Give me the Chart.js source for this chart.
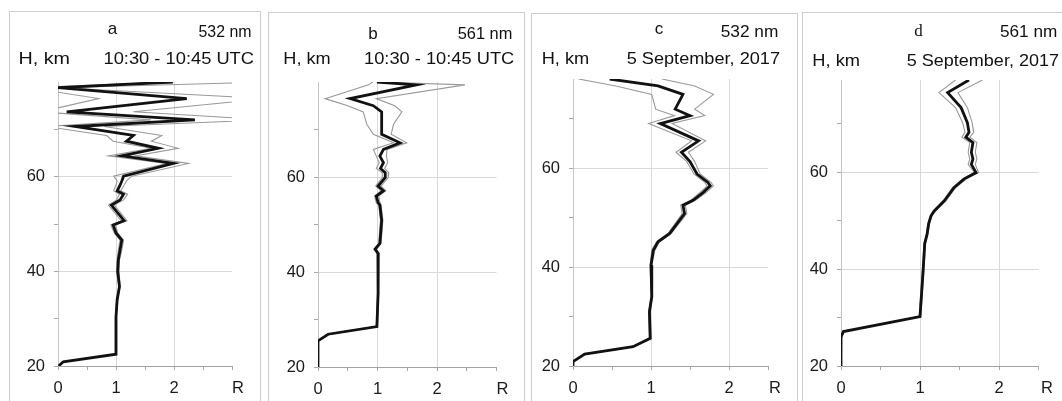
<!DOCTYPE html>
<html><head><meta charset="utf-8">
<script src="https://cdn.jsdelivr.net/npm/chart.js@4.4.1/dist/chart.umd.min.js"></script>
<style>
html,body{margin:0;padding:0;background:#fff;width:1062px;height:401px;overflow:hidden;position:relative;}
canvas{position:absolute;top:0;}
.box{position:absolute;border:1px solid #cdcdcd;box-sizing:border-box;height:430px;}
</style></head><body>
<div class="box" style="left:9px;top:11px;width:252px"></div>
<div class="box" style="left:268px;top:12px;width:257px"></div>
<div class="box" style="left:531px;top:13px;width:267px"></div>
<div class="box" style="left:802px;top:12px;width:280px"></div>
<canvas id="ca" width="265" height="401" style="left:0px;width:265px;height:401px"></canvas>
<canvas id="cb" width="265" height="401" style="left:265px;width:265px;height:401px"></canvas>
<canvas id="cc" width="267" height="401" style="left:530px;width:267px;height:401px"></canvas>
<canvas id="cd" width="265" height="401" style="left:797px;width:265px;height:401px"></canvas>
<script>
// ---------- DATA ----------
// Panel a: 532 nm, 10:30 - 10:45 UTC
const aH    = [80.0, 78.8, 76.5, 73.7, 72.0, 70.6, 68.7, 67.5, 66.0, 64.4, 62.8, 60.1, 59.1, 58.2, 57.0, 56.3, 55.1, 54.0, 50.7, 49.8, 48.1, 46.6, 44.5, 42.4, 40.0, 36.8, 34.0, 30.4, 22.5, 20.9, 20.0];
const aMean = [1.98, 0.00, 2.22, 0.15, 2.36, 0.29, 1.30, 1.18, 1.73, 1.10, 1.99, 1.13, 1.10, 1.07, 1.02, 1.13, 1.07, 0.92, 1.14, 0.95, 1.00, 1.10, 1.07, 1.04, 1.03, 1.06, 1.02, 1.00, 1.00, 0.09, 0.01];
const aLow  = [1.90, -0.50, 0.70, -0.30, 1.60, -0.20, 0.84, 0.95, 1.61, 0.87, 1.87, 0.96, 1.02, 1.00, 0.96, 1.06, 1.01, 0.87, 1.09, 0.91, 0.97, 1.07, 1.04, 1.02, 1.01, 1.05, 1.01, 0.99, 0.99, 0.08, 0.00];
const aHigh = [3.60, 0.05, 3.60, 1.30, 3.60, 0.80, 1.79, 1.61, 2.07, 1.33, 2.25, 1.27, 1.18, 1.14, 1.08, 1.20, 1.13, 0.97, 1.19, 0.99, 1.03, 1.13, 1.10, 1.06, 1.05, 1.07, 1.03, 1.01, 1.01, 0.10, 0.02];

// Panel b: 561 nm, 10:30 - 10:45 UTC
const bH    = [80.0, 79.4, 76.5, 75.0, 73.7, 71.1, 69.0, 67.2, 65.8, 64.4, 63.0, 61.8, 60.9, 59.9, 58.1, 57.1, 56.0, 54.6, 54.1, 50.9, 46.0, 44.8, 43.9, 35.5, 28.5, 26.9, 25.5, 20.0];
const bMean = [0.99, 1.65, 0.54, 0.93, 1.07, 1.07, 1.07, 1.38, 1.10, 1.04, 1.10, 1.05, 1.13, 1.13, 1.01, 1.10, 0.98, 1.01, 1.04, 1.07, 1.04, 0.96, 1.01, 1.01, 0.99, 0.17, 0.00, 0.00];
const bLow  = [0.92, 0.85, 0.12, 0.50, 0.76, 0.82, 0.93, 1.27, 0.93, 0.98, 1.03, 0.98, 1.08, 1.08, 0.97, 1.06, 0.95, 0.98, 1.02, 1.05, 1.02, 0.94, 0.99, 1.00, 0.98, 0.16, 0.00, 0.00];
const bHigh = [1.02, 2.47, 0.98, 1.29, 1.41, 1.27, 1.23, 1.49, 1.16, 1.15, 1.17, 1.12, 1.19, 1.18, 1.06, 1.14, 1.02, 1.04, 1.06, 1.09, 1.06, 0.98, 1.03, 1.02, 1.00, 0.18, 0.01, 0.00];

// Panel c: 532 nm, 5 September, 2017
const cH    = [78.0, 76.6, 74.9, 71.9, 70.6, 69.0, 65.5, 63.2, 61.3, 58.8, 57.1, 56.4, 55.1, 53.5, 52.5, 50.8, 46.8, 45.1, 43.4, 40.4, 34.0, 31.0, 25.6, 23.9, 22.4, 20.9, 20.0];
const cMean = [0.47, 1.09, 1.41, 1.31, 1.50, 1.12, 1.61, 1.39, 1.50, 1.59, 1.73, 1.76, 1.67, 1.54, 1.41, 1.43, 1.24, 1.09, 1.03, 1.00, 1.01, 0.98, 0.99, 0.77, 0.15, 0.00, 0.00];
const cLow  = [0.07, 0.55, 1.01, 1.06, 1.30, 0.97, 1.52, 1.32, 1.46, 1.55, 1.69, 1.72, 1.63, 1.51, 1.38, 1.40, 1.22, 1.07, 1.01, 0.99, 1.00, 0.97, 0.98, 0.76, 0.14, 0.00, 0.00];
const cHigh = [1.14, 1.56, 1.80, 1.56, 1.69, 1.27, 1.70, 1.48, 1.56, 1.63, 1.77, 1.80, 1.71, 1.57, 1.44, 1.46, 1.26, 1.11, 1.05, 1.01, 1.02, 0.99, 1.00, 0.78, 0.16, 0.01, 0.00];

// Panel d: 561 nm, 5 September, 2017
const dH    = [79.0, 76.4, 73.3, 70.2, 68.2, 67.2, 66.1, 64.1, 62.7, 61.6, 59.9, 58.6, 56.8, 54.1, 52.0, 51.0, 49.4, 47.2, 45.3, 39.8, 30.2, 27.1, 26.0, 20.0];
const dMean = [1.62, 1.35, 1.52, 1.60, 1.62, 1.58, 1.67, 1.65, 1.67, 1.65, 1.71, 1.56, 1.43, 1.31, 1.18, 1.14, 1.11, 1.09, 1.06, 1.04, 1.00, 0.03, 0.00, 0.00];
const dLow  = [1.45, 1.24, 1.45, 1.54, 1.57, 1.53, 1.63, 1.61, 1.63, 1.61, 1.69, 1.54, 1.41, 1.29, 1.17, 1.13, 1.10, 1.08, 1.05, 1.03, 0.99, 0.02, 0.00, 0.00];
const dHigh = [1.79, 1.48, 1.60, 1.66, 1.68, 1.63, 1.72, 1.70, 1.72, 1.70, 1.74, 1.59, 1.45, 1.33, 1.20, 1.15, 1.12, 1.10, 1.07, 1.05, 1.01, 0.04, 0.01, 0.00];

// Axis ticks and labels
const yTicks = [20, 30, 40, 50, 60, 70];
const yLabels = [20, 40, 60];
const yGrid = [40, 60];
const xTicksWide = [0, 0.5, 1, 1.5, 2, 2.5, 3];
const xTicksNarrow = [0, 0.5, 1, 1.5, 2, 2.5];
const xLabels = [0, 1, 2];
const xGrid = [1, 2];
const xAxisTitle = 'R';
const yAxisTitle = 'H, km';
const panelLetters = ['a', 'b', 'c', 'd'];
const wavelengths = ['532 nm', '561 nm', '532 nm', '561 nm'];
const periods = ['10:30 - 10:45 UTC', '10:30 - 10:45 UTC', '5 September, 2017', '5 September, 2017'];

// ---------- LAYOUT / STYLE ----------
const SANS = '"Liberation Sans", Arial, sans-serif';
const SERIF = '"Liberation Serif", "Times New Roman", serif';
const YW = 36, XH = 30;
const panels = [
  {id:'ca', H:aH, mean:aMean, low:aLow, high:aHigh, left:0,   width:265, area:{l:58,  r:232,   t:82, b:366}, ymax:80, xmax:3,   xt:xTicksWide,   rdx:6,
   text:[{s:panelLetters[0], cx:112.5, base:33.5, f:SANS}, {s:wavelengths[0], x0:198.5, x1:251.5, base:36.7, f:SANS},
         {s:yAxisTitle, x0:18.5, x1:70, base:64, f:SANS}, {s:periods[0], x0:103.5, x1:254, base:64, f:SANS}]},
  {id:'cb', H:bH, mean:bMean, low:bLow, high:bHigh, left:265, width:265, area:{l:318, r:496.5, t:82, b:367}, ymax:80, xmax:3,   xt:xTicksWide,   rdx:6,
   text:[{s:panelLetters[1], cx:373, base:38.5, f:SANS}, {s:wavelengths[1], x0:457.7, x1:512.3, base:39.3, f:SANS},
         {s:yAxisTitle, x0:283.3, x1:330.7, base:64, f:SANS}, {s:periods[1], x0:364, x1:514.3, base:64, f:SANS}]},
  {id:'cc', H:cH, mean:cMean, low:cLow, high:cHigh, left:530, width:267, area:{l:573, r:768,   t:79, b:366}, ymax:78, xmax:2.5, xt:xTicksNarrow, rdx:7,
   text:[{s:panelLetters[2], cx:659, base:33.5, f:SANS}, {s:wavelengths[2], x0:720.7, x1:778.3, base:36.5, f:SANS},
         {s:yAxisTitle, x0:541.7, x1:589.3, base:64, f:SANS}, {s:periods[2], x0:626.7, x1:780, base:64, f:SANS}]},
  {id:'cd', H:dH, mean:dMean, low:dLow, high:dHigh, left:797, width:265, area:{l:841, r:1038.5, t:80, b:366}, ymax:79, xmax:2.5, xt:xTicksNarrow, rdx:8.5,
   text:[{s:panelLetters[3], cx:918.5, base:35.5, f:SERIF}, {s:wavelengths[3], x0:1000, x1:1057.3, base:37.3, f:SANS},
         {s:yAxisTitle, x0:812.3, x1:860, base:65.5, f:SANS}, {s:periods[3], x0:906.7, x1:1059, base:65.5, f:SANS}]}
];

const textPlugin = {
  id: 'panelText',
  afterDraw(chart, args, opts) {
    const ctx = chart.ctx;
    ctx.save();
    ctx.fillStyle = '#111';
    ctx.textBaseline = 'alphabetic';
    for (const t of opts.items) {
      if (t.cx !== undefined) {
        ctx.font = '17px ' + t.f;
        ctx.textAlign = 'center';
        ctx.fillText(t.s, t.cx - opts.offset, t.base);
      } else {
        ctx.font = '16.5px ' + t.f;
        ctx.textAlign = 'left';
        const w = ctx.measureText(t.s).width;
        const sx = (t.x1 - t.x0) / w;
        ctx.save();
        ctx.translate(t.x0 - opts.offset, t.base);
        ctx.scale(sx, 1);
        ctx.fillText(t.s, 0, 0);
        ctx.restore();
      }
    }
    const a = chart.chartArea;
    ctx.font = '16.5px ' + SANS;
    ctx.fillStyle = '#1a1a1a';
    ctx.textAlign = 'center';
    ctx.textBaseline = 'middle';
    ctx.fillText(xAxisTitle, a.right + opts.rdx, a.bottom + 22.6);
    ctx.restore();
  }
};

function series(H, R, color, width) {
  return { data: H.map((h, i) => ({ x: R[i], y: h })), borderColor: color, borderWidth: width,
           pointRadius: 0, pointHoverRadius: 0, showLine: true, tension: 0, fill: false };
}

for (const p of panels) {
  new Chart(document.getElementById(p.id), {
    type: 'scatter',
    data: { datasets: [
      series(p.H, p.mean, '#111111', 2.8),
      series(p.H, p.low, '#999999', 1.1),
      series(p.H, p.high, '#999999', 1.1)
    ]},
    plugins: [textPlugin],
    options: {
      responsive: false, animation: false, devicePixelRatio: 1,
      layout: { padding: { left: p.area.l - p.left - YW, right: p.left + p.width - p.area.r, top: p.area.t, bottom: 401 - p.area.b - XH } },
      plugins: { legend: { display: false }, tooltip: { enabled: false },
                 panelText: { items: p.text, offset: p.left, rdx: p.rdx } },
      scales: {
        x: {
          type: 'linear', min: 0, max: p.xmax,
          afterFit: s => { s.height = XH; },
          afterBuildTicks: s => { s.ticks = p.xt.map(v => ({ value: v })); },
          ticks: { autoSkip: false, maxRotation: 0, padding: 9, color: '#1a1a1a',
                   font: { family: SANS, size: 16.5 },
                   callback: v => xLabels.includes(v) ? String(v) : '' },
          grid: { color: c => (c.tick && xGrid.includes(c.tick.value)) ? '#d9d9d9' : 'rgba(0,0,0,0)',
                  tickColor: '#a8a8a8', tickLength: 4, lineWidth: 1 },
          border: { display: true, color: '#a3a3a3', width: 1 }
        },
        y: {
          type: 'linear', min: 20, max: p.ymax,
          afterFit: s => { s.width = YW; },
          afterBuildTicks: s => { s.ticks = yTicks.map(v => ({ value: v })); },
          ticks: { autoSkip: false, padding: 9, color: '#1a1a1a',
                   font: { family: SANS, size: 16.5 },
                   callback: v => yLabels.includes(v) ? String(v) : '' },
          grid: { color: c => (c.tick && yGrid.includes(c.tick.value)) ? '#d9d9d9' : 'rgba(0,0,0,0)',
                  tickColor: '#a8a8a8', tickLength: 4, lineWidth: 1 },
          border: { display: true, color: '#c4c4c4', width: 1 }
        }
      }
    }
  });
}
</script>
</body></html>
